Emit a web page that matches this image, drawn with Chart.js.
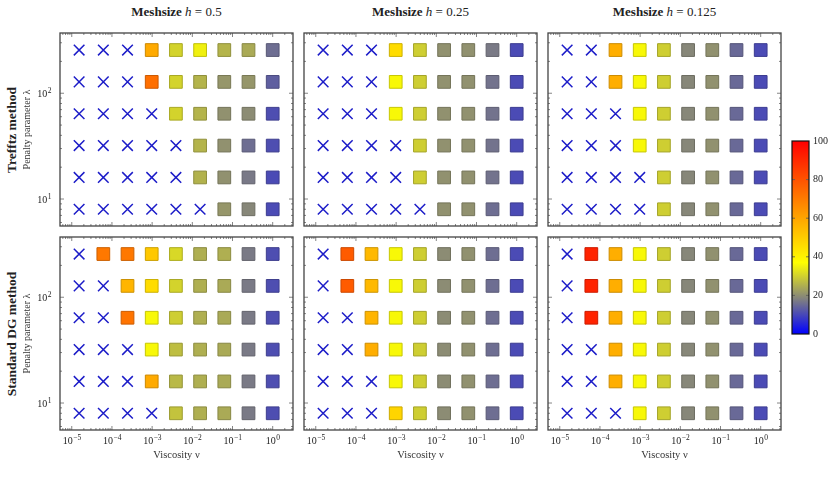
<!DOCTYPE html>
<html>
<head>
<meta charset="utf-8">
<script src="https://cdn.jsdelivr.net/npm/chart.js@4.4.1/dist/chart.umd.min.js"></script>
<style>
  body { margin: 0; background: #fff; width: 834px; height: 486px; position: relative; overflow: hidden; font-family: "Liberation Serif", serif; color: #222; }
  canvas { position: absolute; }
  .title { position: absolute; top: 4px; width: 233px; text-align: center; font-size: 13px; }
  .row { position: absolute; left: 12px; transform: translate(-50%, -50%) rotate(-90deg); white-space: nowrap; font-weight: bold; font-size: 13.5px; }
</style>
</head>
<body>
<script>
// axis values
var viscosity = [1.526e-5, 6.104e-5, 2.441e-4, 9.766e-4, 3.906e-3, 1.5625e-2, 6.25e-2, 0.25, 1];
var penalty = [8, 16, 32, 64, 128, 256];
var xTicks = [1e-5, 1e-4, 1e-3, 1e-2, 1e-1, 1];
var yTicks = [10, 100];
var cbTicks = [0, 20, 40, 60, 80, 100];
var meshsizes = ['0.5', '0.25', '0.125'];
var methods = ['Trefftz method', 'Standard DG method'];

// values per panel, rows = penalty 8..256, columns = viscosity; null = no convergence (cross)
var n = null;
var trefftzH05 = [
  [n, n, n, n, n, n, 21.3, 19, 10.5],
  [n, n, n, n, n, 25.5, 20.5, 17, 10.5],
  [n, n, n, n, n, 25.8, 20.5, 15.5, 11],
  [n, n, n, n, 30.4, 25.8, 20.5, 19.8, 11],
  [n, n, n, 73, 30.4, 25.8, 21.3, 21.3, 13.4],
  [n, n, n, 58.7, 30.4, 34.7, 25.8, 24.3, 15.5]
];
var trefftzH025 = [
  [n, n, n, n, n, 20.5, 20.5, 15.5, 10.5],
  [n, n, n, n, 29.6, 20.5, 20.5, 16.2, 10.5],
  [n, n, n, n, 29.6, 20.5, 20.5, 16.2, 10.5],
  [n, n, n, 36, 29.6, 20.5, 20.5, 16.2, 10.5],
  [n, n, n, 36, 29.6, 20.5, 20.5, 16.2, 10.5],
  [n, n, n, 46, 29.6, 20.5, 20.5, 17.2, 10.5]
];
var trefftzH0125 = [
  [n, n, n, n, 29.6, 19, 20.5, 14.8, 10.5],
  [n, n, n, n, 29.6, 19, 20.5, 14.8, 10.5],
  [n, n, n, 36, 29.6, 19, 20.5, 14.8, 10.5],
  [n, n, n, 36, 29.6, 19, 20.5, 14.8, 10.5],
  [n, n, 57.6, 36, 29.6, 19, 20.5, 14.8, 10.5],
  [n, n, 57.6, 36, 29.6, 19, 20.5, 14.8, 10.5]
];
var dgH05 = [
  [n, n, n, n, 28, 25, 24.3, 17.2, 11],
  [n, n, n, 58.7, 26.5, 25, 24.3, 17.2, 11],
  [n, n, n, 36, 27.3, 25, 24.3, 17.2, 11],
  [n, n, 72, 36, 29.6, 25, 24.3, 17.2, 11],
  [n, n, 56, 46, 30.4, 25, 24.3, 17.2, 11],
  [n, 71, 71, 51, 31.2, 25, 25, 17.2, 11]
];
var dgH025 = [
  [n, n, n, 47.8, 29.6, 19.8, 20.5, 15.5, 10.5],
  [n, n, n, 36, 29.6, 19.8, 20.5, 15.5, 10.5],
  [n, n, 57.6, 36, 29.6, 19.8, 20.5, 15.5, 10.5],
  [n, n, 56, 36, 29.6, 19.8, 20.5, 15.5, 10.5],
  [n, 78, 55, 36, 29.6, 19.8, 20.5, 15.5, 10.5],
  [n, 78, 55, 36, 29.6, 19.8, 20.5, 15.5, 10.5]
];
var dgH0125 = [
  [n, n, n, 36, 29.6, 19, 20.5, 14.8, 10.5],
  [n, n, 57.6, 36, 29.6, 19, 20.5, 14.8, 10.5],
  [n, n, 57.6, 36, 29.6, 19, 20.5, 14.8, 10.5],
  [n, 91.5, 57.6, 36, 29.6, 19, 20.5, 14.8, 10.5],
  [n, 91.5, 57.6, 36, 29.6, 19, 20.5, 14.8, 10.5],
  [n, 91.5, 57.6, 36, 29.6, 19, 20.5, 14.8, 10.5]
];
var panels = [[trefftzH05, trefftzH025, trefftzH0125], [dgH05, dgH025, dgH0125]];

// colormap blue -> gray -> yellow -> orange -> red
var cmapStops = [[0, [0, 0, 255]], [18, [128, 128, 128]], [37, [255, 255, 0]], [60, [255, 165, 0]], [100, [255, 0, 0]]];
function cmap(v, k) {
  k = k || 1;
  for (var i = 1; i < cmapStops.length; i++) {
    if (v <= cmapStops[i][0] || i == cmapStops.length - 1) {
      var a = cmapStops[i - 1], b = cmapStops[i];
      var t = Math.max(0, Math.min(1, (v - a[0]) / (b[0] - a[0])));
      var c = [0, 1, 2].map(function (j) { return Math.round((a[1][j] + (b[1][j] - a[1][j]) * t) * k); });
      return 'rgb(' + c.join(',') + ')';
    }
  }
}

// layout of the plot areas on the page
var plotLeft = [60, 304, 548], plotTop = [33, 237];
var plotW = 233, plotH = 193;
var padL = 45, padT = 5, padR = 5, padB = 35;
var serif = '"Liberation Serif", serif';

// draws 10^e with a raised exponent
function drawPow(ctx, v, x, y, align) {
  var e = String(Math.round(Math.log10(v))).replace('-', '\u2212');
  ctx.font = '10px ' + serif;
  var wb = ctx.measureText('10').width;
  ctx.font = '7.5px ' + serif;
  var we = ctx.measureText(e).width;
  var x0 = align == 'right' ? x - wb - we : x - (wb + we) / 2;
  ctx.textAlign = 'left';
  ctx.textBaseline = 'alphabetic';
  ctx.font = '10px ' + serif;
  ctx.fillText('10', x0, y);
  ctx.font = '7.5px ' + serif;
  ctx.fillText(e, x0 + wb + 0.5, y - 4);
}

var framePlugin = {
  id: 'frame',
  afterDraw: function (chart, args, opts) {
    var ctx = chart.ctx, a = chart.chartArea, xs = chart.scales.x, ys = chart.scales.y;
    ctx.save();
    ctx.strokeStyle = '#666';
    ctx.lineWidth = 0.8;
    ctx.beginPath();
    for (var e = -6; e <= 2; e++) {
      for (var m = 1; m < 10; m++) {
        var v = m * Math.pow(10, e), L = m == 1 ? 4 : 2;
        if (v >= xs.min && v <= xs.max) {
          var px = xs.getPixelForValue(v);
          ctx.moveTo(px, a.bottom); ctx.lineTo(px, a.bottom - L);
          ctx.moveTo(px, a.top); ctx.lineTo(px, a.top + L);
        }
        if (v >= ys.min && v <= ys.max) {
          var py = ys.getPixelForValue(v);
          ctx.moveTo(a.left, py); ctx.lineTo(a.left + L, py);
          ctx.moveTo(a.right, py); ctx.lineTo(a.right - L, py);
        }
      }
    }
    ctx.stroke();
    ctx.strokeStyle = '#444';
    ctx.lineWidth = 1.3;
    ctx.strokeRect(a.left, a.top, a.right - a.left, a.bottom - a.top);
    ctx.fillStyle = '#222';
    if (opts.showX) xTicks.forEach(function (v) { drawPow(ctx, v, xs.getPixelForValue(v), a.bottom + 14, 'center'); });
    if (opts.showY) yTicks.forEach(function (v) { drawPow(ctx, v, a.left - 9, ys.getPixelForValue(v) + 4, 'right'); });
    ctx.restore();
  }
};

function addCanvas(left, top, w, h) {
  var c = document.createElement('canvas');
  c.width = w; c.height = h;
  c.style.left = left + 'px'; c.style.top = top + 'px';
  c.style.width = w + 'px'; c.style.height = h + 'px';
  document.body.appendChild(c);
  return c;
}

function fixX(s) { s.height = padB; s.paddingLeft = 0; s.paddingRight = 0; }
function fixY(s) { s.width = padL; s.paddingTop = 0; s.paddingBottom = 0; }

function makePanel(r, col) {
  var vals = panels[r][col];
  var squares = [], crosses = [];
  for (var i = 0; i < penalty.length; i++) {
    for (var j = 0; j < viscosity.length; j++) {
      if (vals[i][j] === null) crosses.push({ x: viscosity[j], y: penalty[i] });
      else squares.push({ x: viscosity[j], y: penalty[i], v: vals[i][j] });
    }
  }
  var showX = r == 1, showY = col == 0;
  var canvas = addCanvas(plotLeft[col] - padL, plotTop[r] - padT, padL + plotW + padR, padT + plotH + padB);
  new Chart(canvas, {
    type: 'scatter',
    data: {
      datasets: [
        {
          data: crosses,
          pointStyle: 'crossRot',
          pointRadius: 7.5,
          borderColor: '#1c1cc8',
          borderWidth: 1.5
        },
        {
          data: squares,
          pointStyle: 'rect',
          pointRadius: 9,
          backgroundColor: squares.map(function (p) { return cmap(p.v); }),
          borderColor: squares.map(function (p) { return cmap(p.v, 0.8); }),
          borderWidth: 1
        }
      ]
    },
    options: {
      responsive: false,
      animation: false,
      events: [],
      layout: { autoPadding: false, padding: { left: 0, top: padT, right: padR, bottom: 0 } },
      plugins: { legend: { display: false }, tooltip: { enabled: false }, frame: { showX: showX, showY: showY } },
      scales: {
        x: {
          type: 'logarithmic',
          min: 5.1e-6,
          max: 3.2,
          grid: { display: false, drawTicks: false },
          border: { display: false },
          afterBuildTicks: function (s) { s.ticks = xTicks.map(function (v) { return { value: v }; }); },
          afterFit: fixX,
          ticks: { display: false },
          title: { display: showX, text: 'Viscosity \u03BD', color: '#333', font: { family: serif, size: 10.5 }, padding: { top: 0, bottom: 3 } }
        },
        y: {
          type: 'logarithmic',
          min: 5.56,
          max: 371,
          grid: { display: false, drawTicks: false },
          border: { display: false },
          afterBuildTicks: function (s) { s.ticks = yTicks.map(function (v) { return { value: v }; }); },
          afterFit: fixY,
          ticks: { display: false },
          title: { display: showY, text: 'Penalty parameter \u03BB', color: '#333', font: { family: serif, size: 10 }, padding: { top: 6, bottom: 0 } }
        }
      }
    },
    plugins: [framePlugin]
  });
}

// titles and row labels
meshsizes.forEach(function (h, col) {
  var d = document.createElement('div');
  d.className = 'title';
  d.style.left = plotLeft[col] + 'px';
  d.innerHTML = '<b>Meshsize</b> <i>h</i> = ' + h;
  document.body.appendChild(d);
});
methods.forEach(function (m, r) {
  var d = document.createElement('div');
  d.className = 'row';
  d.style.top = (plotTop[r] + plotH / 2) + 'px';
  d.textContent = m;
  document.body.appendChild(d);
});

for (var r = 0; r < 2; r++) for (var col = 0; col < 3; col++) makePanel(r, col);

// colour bar
var cbLeft = 792, cbTop = 141, cbW = 17, cbH = 193;
var cbPlugin = {
  id: 'cbar',
  beforeDatasetsDraw: function (chart) {
    var ctx = chart.ctx, a = chart.chartArea;
    var g = ctx.createLinearGradient(0, a.bottom, 0, a.top);
    cmapStops.forEach(function (s) { g.addColorStop(s[0] / 100, cmap(s[0])); });
    ctx.fillStyle = g;
    ctx.fillRect(a.left, a.top, a.right - a.left, a.bottom - a.top);
  },
  afterDraw: function (chart) {
    var ctx = chart.ctx, a = chart.chartArea, ys = chart.scales.y;
    ctx.save();
    ctx.strokeStyle = 'rgba(90,90,90,0.8)';
    ctx.lineWidth = 1;
    ctx.beginPath();
    cbTicks.slice(1, -1).forEach(function (v) {
      var py = ys.getPixelForValue(v);
      ctx.moveTo(a.left, py); ctx.lineTo(a.left + 3, py);
      ctx.moveTo(a.right, py); ctx.lineTo(a.right - 3, py);
    });
    ctx.stroke();
    ctx.strokeStyle = '#111';
    ctx.lineWidth = 1.2;
    ctx.strokeRect(a.left, a.top, a.right - a.left, a.bottom - a.top);
    ctx.restore();
  }
};
var cbCanvas = addCanvas(cbLeft - 5, cbTop - 8, 5 + cbW + 30, 8 + cbH + 8);
new Chart(cbCanvas, {
  type: 'scatter',
  data: { datasets: [{ data: [] }] },
  options: {
    responsive: false,
    animation: false,
    events: [],
    layout: { autoPadding: false, padding: { left: 5, top: 8, right: 0, bottom: 8 } },
    plugins: { legend: { display: false }, tooltip: { enabled: false } },
    scales: {
      x: { display: false, min: 0, max: 1 },
      y: {
        position: 'right',
        min: 0,
        max: 100,
        grid: { display: false, drawTicks: false },
        border: { display: false },
        afterBuildTicks: function (s) { s.ticks = cbTicks.map(function (v) { return { value: v }; }); },
        afterFit: function (s) { s.width = 30; s.paddingTop = 0; s.paddingBottom = 0; },
        ticks: { padding: 4, color: '#222', font: { family: serif, size: 10 } }
      }
    }
  },
  plugins: [cbPlugin]
});
</script>
</body>
</html>
